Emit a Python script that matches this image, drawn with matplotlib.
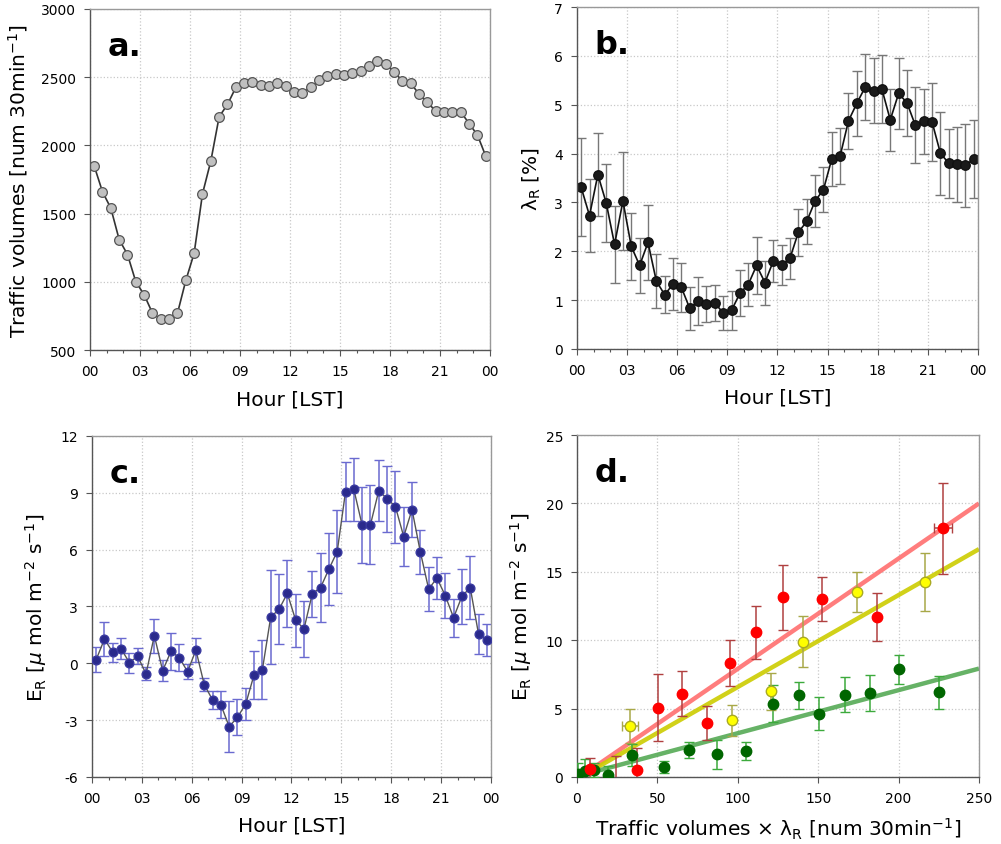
import numpy as np
import matplotlib
matplotlib.use("Agg")
import matplotlib.pyplot as plt
from matplotlib.ticker import MultipleLocator, FixedLocator

plt.rcParams['font.family'] = ['DejaVu Sans']
plt.rcParams['mathtext.fontset'] = 'dejavusans'
plt.rcParams['axes.unicode_minus'] = False

# half-hour bins (centre of each 30 min interval)
hours = np.arange(0.25, 24, 0.5)

# a. traffic volumes
traffic = [1850, 1660, 1540, 1310, 1200, 1000, 905, 770, 725, 725, 770, 1010,
           1210, 1645, 1885, 2210, 2300, 2425, 2460, 2465, 2440, 2435, 2455, 2435,
           2395, 2385, 2425, 2480, 2505, 2520, 2515, 2530, 2545, 2585, 2620, 2595,
           2540, 2470, 2455, 2375, 2315, 2250, 2245, 2245, 2245, 2160, 2075, 1920]

# b. lambda_R [%]
lam = [3.31, 2.73, 3.57, 2.99, 2.14, 3.03, 2.10, 1.71, 2.18, 1.39, 1.11, 1.33,
       1.26, 0.83, 0.99, 0.92, 0.94, 0.74, 0.79, 1.14, 1.32, 1.71, 1.36, 1.80,
       1.72, 1.86, 2.39, 2.61, 3.03, 3.26, 3.89, 3.95, 4.67, 5.03, 5.36, 5.29,
       5.32, 4.69, 5.23, 5.04, 4.58, 4.66, 4.65, 4.01, 3.80, 3.78, 3.76, 3.89]
lam_err = [1.00, 0.74, 0.85, 0.80, 0.78, 1.00, 0.68, 0.57, 0.77, 0.55, 0.38, 0.53,
           0.50, 0.44, 0.49, 0.37, 0.36, 0.35, 0.40, 0.47, 0.44, 0.58, 0.45, 0.43,
           0.41, 0.42, 0.48, 0.46, 0.54, 0.46, 0.56, 0.57, 0.58, 0.66, 0.68, 0.67,
           0.70, 0.63, 0.73, 0.68, 0.78, 0.66, 0.80, 0.85, 0.70, 0.77, 0.85, 0.80]

# c. E_R
er = [0.19, 1.28, 0.58, 0.76, 0.04, 0.37, -0.56, 1.46, -0.39, 0.63, 0.30, -0.44,
      0.70, -1.12, -1.93, -2.18, -3.34, -2.85, -2.14, -0.60, -0.33, 2.44, 2.85, 3.69,
      2.28, 1.81, 3.67, 4.00, 4.97, 5.90, 9.06, 9.18, 7.29, 7.32, 9.11, 8.69,
      8.27, 6.69, 8.11, 5.88, 3.92, 4.50, 3.57, 2.41, 3.53, 4.00, 1.55, 1.23]
er_err = [0.65, 0.90, 0.50, 0.55, 0.53, 0.42, 0.34, 0.90, 0.55, 0.97, 0.73, 0.40,
          0.62, 0.33, 0.46, 0.73, 1.35, 0.95, 0.84, 1.26, 1.58, 2.50, 1.85, 1.75,
          1.40, 1.50, 1.20, 1.80, 1.90, 2.20, 1.55, 1.65, 2.00, 2.10, 1.60, 1.75,
          1.90, 1.55, 1.45, 1.14, 1.17, 1.13, 1.18, 1.00, 1.45, 1.65, 1.05, 0.87]

# d. E_R vs traffic x lambda_R
red_x = [7.9, 24.5, 37.3, 50.2, 65.1, 80.9, 95.4, 111.6, 128.0, 152.1, 186.7, 227.8]
red_y = [0.60, -0.80, 0.53, 5.08, 6.10, 3.96, 8.32, 10.58, 13.13, 12.99, 11.67, 18.17]
red_err = [0.80, 2.30, 1.60, 2.45, 1.65, 1.25, 1.70, 1.95, 2.35, 1.60, 1.75, 3.30]
red_xerr = [0, 0, 0, 0, 0, 0, 0, 0, 0, 0, 0, 5.5]

yel_x = [32.8, 96.3, 120.7, 140.5, 173.9, 216.6]
yel_y = [3.72, 4.13, 6.25, 9.90, 13.52, 14.25]
yel_err = [1.25, 1.10, 1.35, 1.85, 1.45, 2.10]
yel_xerr = [5.0, 0, 0, 0, 0, 0]

grn_x = [0.4, 5.0, 10.4, 19.3, 34.2, 54.4, 69.5, 86.9, 105.0, 121.8, 137.8, 150.6,
         166.6, 182.2, 200.0, 225.1]
grn_y = [0.24, 0.41, 0.53, 0.17, 1.63, 0.71, 1.99, 1.65, 1.90, 5.35, 5.96, 4.62,
         6.03, 6.13, 7.86, 6.20]
grn_err = [0.75, 0.90, 0.50, 0.60, 0.80, 0.45, 0.60, 1.05, 0.63, 1.35, 1.00, 1.20,
           1.25, 1.30, 1.05, 1.20]

# linear fits (slope, intercept, x start)
red_fit = (0.0806, -0.15, 5)
yel_fit = (0.0672, -0.14, 8)
grn_fit = (0.0315, 0.05, 0)

hour_ticks = [0, 3, 6, 9, 12, 15, 18, 21, 24]
hour_labels = ['00', '03', '06', '09', '12', '15', '18', '21', '00']

fig = plt.figure(figsize=(10.01, 8.45), dpi=100)
ax_a = fig.add_axes([0.0899, 0.5846, 0.3996, 0.4036])
ax_b = fig.add_axes([0.5764, 0.5858, 0.4006, 0.4047])
ax_c = fig.add_axes([0.0919, 0.0793, 0.3986, 0.4036])
ax_d = fig.add_axes([0.5764, 0.0793, 0.4016, 0.4047])


def style(ax, hourly=True):
    for s in ['left', 'bottom']:
        ax.spines[s].set_color('#555555')
    for s in ['right', 'top']:
        ax.spines[s].set_color('#999999')
    for s in ax.spines.values():
        s.set_linewidth(1.0)
    ax.grid(True, which='major', linestyle=':', color='#c8c8c8', linewidth=0.9)
    ax.set_axisbelow(True)
    ax.tick_params(which='major', direction='out', length=4, width=0.8,
                   color='#555555', labelsize=10, pad=6)
    ax.tick_params(which='minor', direction='out', length=2.5, width=0.8,
                   color='#555555')
    if hourly:
        ax.set_xlim(0, 24)
        ax.xaxis.set_major_locator(FixedLocator(hour_ticks))
        ax.set_xticklabels(hour_labels)
        ax.xaxis.set_minor_locator(MultipleLocator(1))
        ax.set_xlabel('Hour [LST]', fontsize=14.5, labelpad=8)


# a.
ax_a.plot(hours, traffic, '-', color='#333333', lw=1.2, marker='o', ms=7,
          mfc='#c0c0c0', mec='#555555', mew=0.9)
ax_a.set_ylim(500, 3000)
ax_a.yaxis.set_major_locator(MultipleLocator(500))
ax_a.set_ylabel('Traffic volumes [num 30min$^{-1}$]', fontsize=14.5, labelpad=8)
style(ax_a)
ax_a.text(0.043, 0.935, 'a.', transform=ax_a.transAxes, fontsize=23,
          fontweight='bold', va='top')

# b.
ax_b.errorbar(hours, lam, yerr=lam_err, fmt='-o', color='#111111', lw=1.2,
              ms=6.8, mfc='#1a1a1a', mec='#111111', ecolor='#777777',
              elinewidth=1.0, capsize=3.5, capthick=1.0)
ax_b.set_ylim(0, 7)
ax_b.yaxis.set_major_locator(MultipleLocator(1))
ax_b.set_ylabel('\u03bb$_\\mathrm{R}$ [%]', fontsize=14.5, labelpad=8)
style(ax_b)
ax_b.text(0.043, 0.935, 'b.', transform=ax_b.transAxes, fontsize=23,
          fontweight='bold', va='top')

# c.
ax_c.errorbar(hours, er, yerr=er_err, fmt='-', color='#555555', lw=1.0,
              ecolor='#6a6ad0', elinewidth=1.1, capsize=3.5, capthick=1.0)
ax_c.plot(hours, er, 'o', ms=6.3, mfc='#2a2a8c', mec='#3a3aa0', zorder=3)
ax_c.set_ylim(-6, 12)
ax_c.yaxis.set_major_locator(MultipleLocator(3))
ax_c.set_ylabel('E$_\\mathrm{R}$ [$\\mu$ mol m$^{-2}$ s$^{-1}$]', fontsize=14.5,
                labelpad=8)
style(ax_c)
ax_c.text(0.043, 0.935, 'c.', transform=ax_c.transAxes, fontsize=23,
          fontweight='bold', va='top')

# d.
for (m, b, x0), col in [(red_fit, '#ff6f6f'), (yel_fit, '#cccc00'),
                        (grn_fit, '#55aa55')]:
    xs = np.array([x0, 250])
    ax_d.plot(xs, m * xs + b, '-', color=col, lw=3.2, alpha=0.9, zorder=2,
              solid_capstyle='butt')

ax_d.errorbar(grn_x, grn_y, yerr=grn_err, fmt='o', ms=7.5, mfc='#006600',
              mec='#006600', ecolor='#3caa3c', elinewidth=1.1, capsize=3.5,
              capthick=1.0, zorder=3)
ax_d.errorbar(yel_x, yel_y, yerr=yel_err, xerr=yel_xerr, fmt='o', ms=7.5,
              mfc='#ffff00', mec='#aaaa22', ecolor='#a8a848', elinewidth=1.1,
              capsize=3.5, capthick=1.0, zorder=3)
ax_d.errorbar(red_x, red_y, yerr=red_err, xerr=red_xerr, fmt='o', ms=7.5,
              mfc='#ff0000', mec='#ff0000', ecolor='#b04040', elinewidth=1.1,
              capsize=3.5, capthick=1.0, zorder=3)
ax_d.set_xlim(0, 250)
ax_d.set_ylim(0, 25)
ax_d.xaxis.set_major_locator(MultipleLocator(50))
ax_d.yaxis.set_major_locator(MultipleLocator(5))
ax_d.set_xlabel('Traffic volumes \u00d7 \u03bb$_\\mathrm{R}$ [num 30min$^{-1}$]',
                fontsize=14.5, labelpad=8)
ax_d.set_ylabel('E$_\\mathrm{R}$ [$\\mu$ mol m$^{-2}$ s$^{-1}$]', fontsize=14.5,
                labelpad=8)
style(ax_d, hourly=False)
ax_d.text(0.043, 0.935, 'd.', transform=ax_d.transAxes, fontsize=23,
          fontweight='bold', va='top')

fig.savefig('out.png', dpi=100)
